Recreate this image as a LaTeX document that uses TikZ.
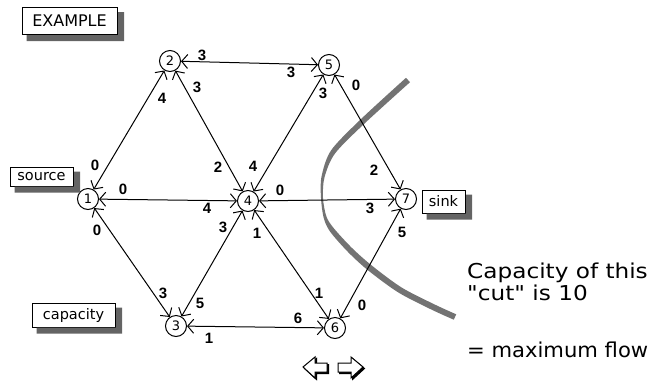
\documentclass[tikz,border=0pt]{standalone}
\usepackage{fontspec}
\setmainfont{DejaVu Sans}
\newfontfamily\numfont{Liberation Sans}
\newfontfamily\plainfont{DejaVu Sans}
\usetikzlibrary{arrows.meta}
\definecolor{shadowgray}{RGB}{100,100,100}
\definecolor{cutgray}{RGB}{115,115,115}
\tikzset{
  vert/.style={circle, draw, line width=1pt, minimum size=21pt, inner sep=0pt,
    font=\fontsize{13}{13}\selectfont},
  capl/.style={inner sep=0pt, font=\numfont\bfseries\fontsize{15}{15}\selectfont},
  tagbox/.style={draw, line width=1pt, fill=white, inner sep=0pt,
    font=\fontsize{14.5}{15}\selectfont},
  flowedge/.style={line width=1pt,
    {Straight Barb[length=6pt,width=14pt]}-{Straight Barb[length=6pt,width=14pt]}},
  bigtext/.style={inner sep=0pt, anchor=base west,
    font=\plainfont\fontsize{20.5}{22}\selectfont},
}
\begin{document}
\begin{tikzpicture}[x=1pt,y=-1pt]
\useasboundingbox (0,0) rectangle (653,381);

% cut curve
\fill[cutgray] plot[smooth] coordinates {(406,77.8) (360,120) (331,150.5) (321.5,176.7) (321,198) (323.6,217.5) (330,231.5) (348,252) (368,270.3) (398.4,292.5) (431.7,309.7) (453.8,319.7)}
  -- plot[smooth] coordinates {(456.2,314.3) (434.3,304.3) (401.6,287.5) (372,265.7) (352,248) (334,228.5) (326.4,216.5) (323,198) (324.5,177.3) (335,153.5) (364,124) (410,82.2)} -- cycle;

% vertices
\node[vert] (n1) at (88,199) {1};
\node[vert] (n2) at (170,61) {2};
\node[vert] (n3) at (176,326) {3};
\node[vert] (n4) at (248,201) {4};
\node[vert] (n5) at (329,65) {5};
\node[vert] (n6) at (335,328) {6};
\node[vert] (n7) at (406,199) {7};

% edges
\draw[flowedge] (n1) -- (n2);
\draw[flowedge] (n1) -- (n4);
\draw[flowedge] (n1) -- (n3);
\draw[flowedge] (n2) -- (n5);
\draw[flowedge] (n2) -- (n4);
\draw[flowedge] (n5) -- (n4);
\draw[flowedge] (n5) -- (n7);
\draw[flowedge] (n4) -- (n7);
\draw[flowedge] (n4) -- (n3);
\draw[flowedge] (n4) -- (n6);
\draw[flowedge] (n3) -- (n6);
\draw[flowedge] (n6) -- (n7);

% capacities
\node[capl] (c12a) at (95,165) {0};
\node[capl] (c12b) at (162,98) {4};
\node[capl] (c14a) at (123,189) {0};
\node[capl] (c14b) at (207,208) {4};
\node[capl] (c13a) at (97,230) {0};
\node[capl] (c13b) at (163,293) {3};
\node[capl] (c25a) at (202,55) {3};
\node[capl] (c25b) at (291,72) {3};
\node[capl] (c24a) at (197,87) {3};
\node[capl] (c24b) at (218,167) {2};
\node[capl] (c54a) at (323,93) {3};
\node[capl] (c54b) at (253,166) {4};
\node[capl] (c57a) at (356,85) {0};
\node[capl] (c57b) at (374,170) {2};
\node[capl] (c47a) at (280,190) {0};
\node[capl] (c47b) at (370,208) {3};
\node[capl] (c43a) at (223,227) {3};
\node[capl] (c43b) at (200,303) {5};
\node[capl] (c46a) at (257,233) {1};
\node[capl] (c46b) at (319,293) {1};
\node[capl] (c36a) at (209,338) {1};
\node[capl] (c36b) at (298,318) {6};
\node[capl] (c67a) at (362,305) {0};
\node[capl] (c67b) at (402,232) {5};

% tag boxes
\node[tagbox, minimum width=95pt, minimum height=27pt, font=\fontsize{16}{16}\selectfont] (example) at (69.5,21) {EXAMPLE};
\node[tagbox, minimum width=63pt, minimum height=19pt] (source) at (41.5,176.5) {source};
\node[tagbox, minimum width=83pt, minimum height=24pt] (capacity) at (73.5,315) {capacity};
\node[tagbox, minimum width=43pt, minimum height=23pt] (sink) at (443.5,201.5) {sink};

% box shadows, drawn on top as L-shaped strips
\foreach \b in {example,source,capacity,sink}{
  \fill[shadowgray] (\b.north east) ++(0.5,5) -- ++(6,0) |- ([shift={(5,6)}]\b.south west) -- ++(0,-6) -| cycle;
}

% explanation text
\node[bigtext, xscale=1.13] (t1) at (467,278) {Capacity of this};
\node[bigtext, xscale=1.13] (t2) at (467,300) {"cut" is 10};
\node[bigtext, xscale=1.03] (t3) at (467,357) {= maximum flow};

% navigation arrows
\filldraw[line width=1pt, shift={(1.5,1.5)}] (303,367)--(315,357)--(315,363)--(327,363)--(327,372)--(315,372)--(315,378)--cycle;
\filldraw[line width=1pt, fill=white] (303,367)--(315,357)--(315,363)--(327,363)--(327,372)--(315,372)--(315,378)--cycle;
\filldraw[line width=1pt, shift={(1.5,1.5)}] (363,367)--(351,357)--(351,363)--(338,363)--(338,372)--(351,372)--(351,378)--cycle;
\filldraw[line width=1pt, fill=white] (363,367)--(351,357)--(351,363)--(338,363)--(338,372)--(351,372)--(351,378)--cycle;
\end{tikzpicture}
\end{document}
